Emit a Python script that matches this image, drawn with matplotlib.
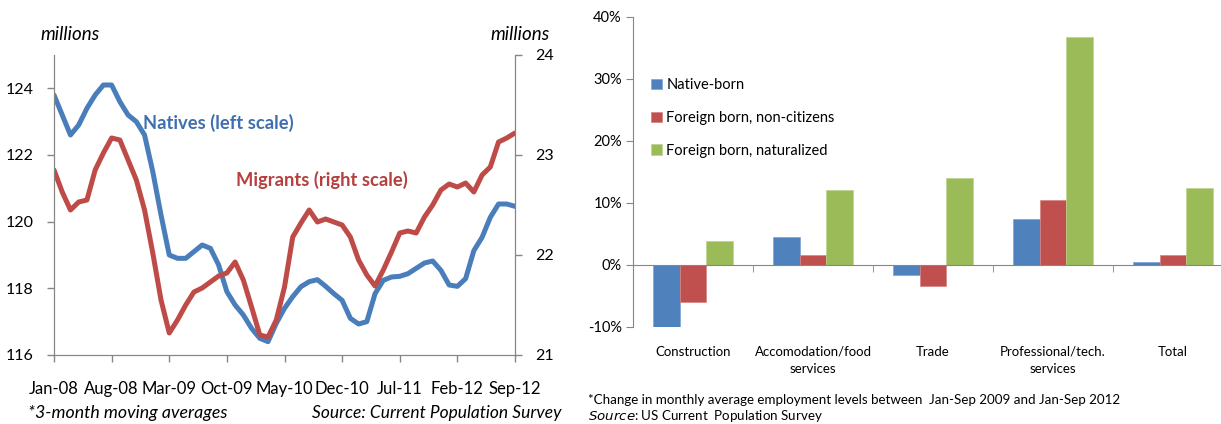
import numpy as np
import matplotlib
matplotlib.use('Agg')
import matplotlib.pyplot as plt
from matplotlib.ticker import FuncFormatter, FixedLocator

plt.rcParams['font.family'] = ['Lato', 'DejaVu Sans']

# left panel: 3-month moving averages, Jan-08 .. Sep-12 (monthly)
natives = [123.8, 123.2, 122.6, 122.9, 123.4, 123.8, 124.1, 124.1, 123.6, 123.2,
           123.0, 122.6, 121.5, 120.2, 119.0, 118.9, 118.9, 119.1, 119.3, 119.2,
           118.7, 117.9, 117.5, 117.2, 116.8, 116.5, 116.4, 116.95, 117.4, 117.75,
           118.05, 118.2, 118.26, 118.06, 117.84, 117.64, 117.1, 116.93, 117.0, 117.84,
           118.24, 118.34, 118.36, 118.44, 118.6, 118.76, 118.82, 118.54, 118.1, 118.06,
           118.29, 119.13, 119.53, 120.13, 120.53, 120.53, 120.46]
migrants = [22.85, 22.63, 22.45, 22.53, 22.55, 22.85, 23.02, 23.17, 23.15, 22.95,
            22.75, 22.45, 22.02, 21.55, 21.22, 21.35, 21.5, 21.63, 21.67, 21.73,
            21.79, 21.82, 21.93, 21.75, 21.48, 21.2, 21.18, 21.35, 21.68, 22.18,
            22.32, 22.45, 22.33, 22.36, 22.33, 22.3, 22.18, 21.95, 21.8, 21.69,
            21.85, 22.03, 22.22, 22.24, 22.22, 22.38, 22.5, 22.65, 22.71, 22.68,
            22.72, 22.63, 22.8, 22.88, 23.13, 23.17, 23.22]
month_labels = ['Jan-08', 'Aug-08', 'Mar-09', 'Oct-09', 'May-10', 'Dec-10',
                'Jul-11', 'Feb-12', 'Sep-12']

# right panel: % change in employment
sectors = ['Construction', 'Accomodation/food\nservices', 'Trade',
           'Professional/tech.\nservices', 'Total']
native_born = [-10.3, 4.5, -1.6, 7.5, 0.5]
non_citizens = [-6.0, 1.6, -3.4, 10.5, 1.6]
naturalized = [3.8, 12.1, 14.0, 36.7, 12.5]

W, H = 1221, 424
fig = plt.figure(figsize=(W / 100, H / 100), dpi=100)
grey = '#868686'

# ---------- left panel ----------
ax = fig.add_axes([54 / W, 1 - 355 / H, (515 - 54) / W, 300 / H])
ax2 = ax.twinx()
months = np.arange(len(natives))
ax.plot(months, natives, color='#4A7EBB', lw=3.6,
        solid_capstyle='round', solid_joinstyle='round')
ax2.plot(months, migrants, color='#BE4B48', lw=3.6,
         solid_capstyle='round', solid_joinstyle='round')
ax.set_xlim(0, 56)
ax.set_ylim(116, 125)
ax2.set_ylim(21, 24)
ax.set_yticks([116, 118, 120, 122, 124])
ax2.set_yticks([21, 22, 23, 24])
ax.set_xticks(np.arange(0, 57, 7))
ax.set_xticklabels(month_labels)
for a in (ax, ax2):
    for s in a.spines.values():
        s.set_color(grey)
    a.spines['top'].set_visible(False)
    a.tick_params(colors=grey, labelcolor='black', labelsize=11.5, length=5,
                  width=1, pad=9.5)
ax.tick_params(axis='x', pad=14, labelsize=12)

fig.text(143 / W, 1 - 123 / H, 'Natives (left scale)', color='#3F6FB0',
         fontsize=13.2, fontweight='bold', va='center')
fig.text(236 / W, 1 - 180 / H, 'Migrants (right scale)', color='#B5403E',
         fontsize=13.2, fontweight='bold', va='center')
fig.text(40 / W, 1 - 35 / H, 'millions', fontsize=13.5, style='italic', va='center')
fig.text(550 / W, 1 - 35 / H, 'millions', fontsize=13.5, style='italic',
         va='center', ha='right')
fig.text(28 / W, 1 - 413 / H, '*3-month moving averages', fontsize=12.8,
         style='italic', va='center')
fig.text(561 / W, 1 - 413 / H, 'Source: Current Population Survey', fontsize=12.5,
         style='italic', va='center', ha='right')

# ---------- right panel ----------
bx = fig.add_axes([633 / W, 1 - 327 / H, (W - 633) / W, 310 / H])
x = np.arange(len(sectors))
bw = 0.222
bx.bar(x - bw, native_born, bw, color='#4F81BD', edgecolor='#7FA3D0', lw=0.5,
       label='Native-born')
bx.bar(x, non_citizens, bw, color='#C0504D', edgecolor='#D48381', lw=0.5,
       label='Foreign born, non-citizens')
bx.bar(x + bw, naturalized, bw, color='#9BBB59', edgecolor='#BDD38F', lw=0.5,
       label='Foreign born, naturalized')
bx.set_ylim(-10, 40)
bx.set_xlim(-0.5, -0.5 + (W - 633) / 120)
bx.set_yticks([-10, 0, 10, 20, 30, 40])
bx.yaxis.set_major_formatter(FuncFormatter(lambda v, p: f'{v:.0f}%'))
bx.spines['top'].set_visible(False)
bx.spines['right'].set_visible(False)
bx.spines['bottom'].set_position(('data', 0))
for s in bx.spines.values():
    s.set_color(grey)
bx.set_xticks(x)
bx.set_xticklabels(sectors, linespacing=1.5)
bx.xaxis.set_minor_locator(FixedLocator(np.arange(0.5, 4.5, 1.0)))
bx.tick_params(axis='x', which='major', length=0, pad=58, labelsize=9.5)
bx.tick_params(axis='x', which='minor', length=5, color=grey, direction='out')
bx.tick_params(axis='y', length=5, color=grey, labelsize=10.5, pad=3)
bx.legend(loc='upper left', bbox_to_anchor=(651 / W, 1 - 78 / H),
          bbox_transform=fig.transFigure, frameon=False, fontsize=10.5,
          handlelength=0.75, handleheight=0.75, handletextpad=0.3,
          labelspacing=1.3, borderpad=0, borderaxespad=0)
fig.text(588 / W, 1 - 400 / H,
         '*Change in monthly average employment levels between  Jan-Sep 2009 and Jan-Sep 2012',
         fontsize=9.6, va='center')
fig.text(588 / W, 1 - 416 / H, r'$\it{Source}$: US Current  Population Survey',
         fontsize=9.6, va='center')

fig.savefig('out.png', dpi=100)
